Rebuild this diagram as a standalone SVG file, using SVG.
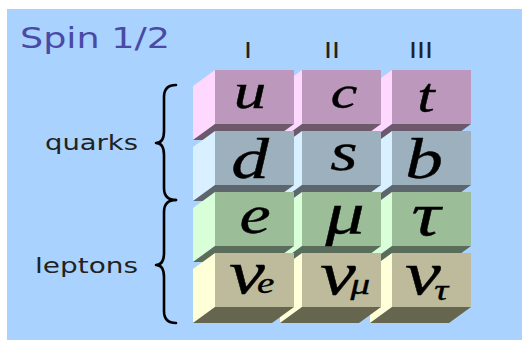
<svg xmlns="http://www.w3.org/2000/svg" width="522" height="340" viewBox="0 0 522 340">
  <style>
    .sans { font-family: "DejaVu Sans", "Liberation Sans", sans-serif; fill: #222; }
    .title { font-family: "DejaVu Sans", "Liberation Sans", sans-serif; fill: #4a4aa6; }
    .m { font-family: "Liberation Serif", "DejaVu Serif", serif; font-style: italic; fill: #000; stroke: #000; stroke-width: 0.4; text-anchor: middle; }
    .nu { text-anchor: start; }
    .brace { fill: none; stroke: #000; stroke-width: 2.6; stroke-linecap: round; stroke-linejoin: round; }
    .face-l { fill: var(--l); }
    .face-b { fill: var(--b); }
    .face-f { fill: var(--f); }
    .q1 { --f: #bd98bd; --l: #ffd8ff; --b: #6c5a6c; }
    .q2 { --f: #9db0bd; --l: #d8f0ff; --b: #5c666c; }
    .l1 { --f: #9bbd98; --l: #d8ffd8; --b: #5a6c5a; }
    .l2 { --f: #bdbb9b; --l: #ffffd8; --b: #66664e; }
  </style>
  <defs>
    <!-- one block: left face, bottom face, front face (front at 0,0, 79x54) -->
    <g id="cube">
      <polygon class="face-l" points="0,0 -22,16 -22,70 0,54"/>
      <polygon class="face-b" points="0,54 79,54 57,70 -22,70"/>
      <rect class="face-f" x="0" y="0" width="79" height="54"/>
    </g>
  </defs>

  <rect x="7" y="9" width="515" height="331" fill="#a9d3fe"/>

  <text class="title" x="20" y="48" font-size="29" textLength="150" lengthAdjust="spacingAndGlyphs">Spin 1/2</text>

  <g id="generations">
    <text class="sans" x="248" y="58" font-size="22" text-anchor="middle" textLength="8" lengthAdjust="spacingAndGlyphs">I</text>
    <text class="sans" x="332" y="58" font-size="22" text-anchor="middle" textLength="16" lengthAdjust="spacingAndGlyphs">II</text>
    <text class="sans" x="421" y="58" font-size="22" text-anchor="middle" textLength="24" lengthAdjust="spacingAndGlyphs">III</text>
  </g>

  <g id="group-labels">
    <text class="sans" x="45" y="150" font-size="22" textLength="93" lengthAdjust="spacingAndGlyphs">quarks</text>
    <text class="sans" x="35" y="273" font-size="22" textLength="103" lengthAdjust="spacingAndGlyphs">leptons</text>
  </g>

  <g id="connectors">
    <path class="brace" d="M176,85 C168,85 164,89 164,97 L164,131 C164,139 161,143 156,143 C161,143 164,147 164,155 L164,188 C164,196 168,200 176,200"/>
    <path class="brace" d="M176,200 C168,200 164,204 164,212 L164,253 C164,261 161,265 156,265 C161,265 164,269 164,277 L164,311 C164,319 168,323 176,323"/>
  </g>

  <!-- row 1: up-type quarks -->
  <g id="t" class="q1"><use href="#cube" x="392" y="70"/><text class="m" transform="translate(426 112) scale(1.3 1)" font-size="48">t</text></g>
  <g id="c" class="q1"><use href="#cube" x="302" y="70"/><text class="m" transform="translate(344 108) scale(1.3 1)" font-size="46">c</text></g>
  <g id="u" class="q1"><use href="#cube" x="215" y="70"/><text class="m" transform="translate(250 108) scale(1.3 1)" font-size="50">u</text></g>

  <!-- row 2: down-type quarks -->
  <g id="b" class="q2"><use href="#cube" x="392" y="131"/><text class="m" transform="translate(424 178) scale(1.3 1)" font-size="58">b</text></g>
  <g id="s" class="q2"><use href="#cube" x="302" y="131"/><text class="m" transform="translate(344 170) scale(1.3 1)" font-size="54">s</text></g>
  <g id="d" class="q2"><use href="#cube" x="215" y="131"/><text class="m" transform="translate(250 178) scale(1.3 1)" font-size="58">d</text></g>

  <!-- row 3: charged leptons -->
  <g id="tau" class="l1"><use href="#cube" x="392" y="192"/><text class="m" transform="translate(426 235) scale(1.3 1)" font-size="62">τ</text></g>
  <g id="mu" class="l1"><use href="#cube" x="302" y="192"/><text class="m" transform="translate(345 233) scale(1.3 1)" font-size="60">μ</text></g>
  <g id="e" class="l1"><use href="#cube" x="215" y="192"/><text class="m" transform="translate(255 233) scale(1.3 1)" font-size="54">e</text></g>

  <!-- row 4: neutrinos, subscript set as a tspan after the nu -->
  <g id="nu-tau" class="l2"><use href="#cube" x="392" y="253"/>
    <text class="m nu" transform="translate(405 294) scale(1.3 1)" font-size="62">ν<tspan font-size="30" dx="-5" dy="6">τ</tspan></text></g>
  <g id="nu-mu" class="l2"><use href="#cube" x="302" y="253"/>
    <text class="m nu" transform="translate(320 294) scale(1.3 1)" font-size="62">ν<tspan font-size="30" dx="-4">μ</tspan></text></g>
  <g id="nu-e" class="l2"><use href="#cube" x="215" y="253"/>
    <text class="m nu" transform="translate(229 293) scale(1.3 1)" font-size="62">ν<tspan font-size="30" dx="-6">e</tspan></text></g>
</svg>
